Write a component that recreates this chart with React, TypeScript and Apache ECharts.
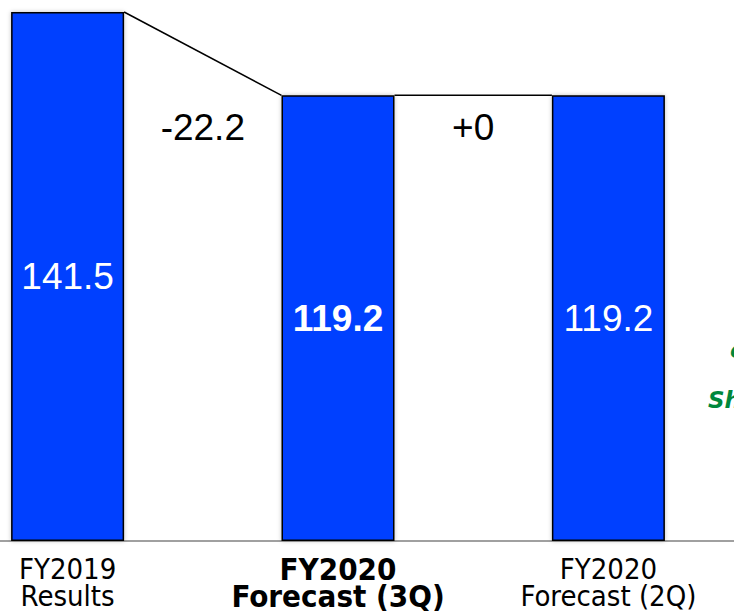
import React, { useEffect, useRef } from "react";
import * as echarts from "echarts";

const categories = ["FY2019\nResults", "FY2020\nForecast (3Q)", "FY2020\nForecast (2Q)"];
const values = [141.5, 119.2, 119.2];
const deltaLabels = ["-22.2", "+0"];
const boldIndex = 1;

const BAR_W = 113;
const BLUE = "#0040ff";

export default function App() {
  const ref = useRef<HTMLDivElement>(null);
  useEffect(() => {
    if (!ref.current) return;
    const chart = echarts.init(ref.current, undefined, { renderer: "svg" });

    // 5 slots: bar, gap, bar, gap, bar
    const axisData: any[] = [];
    const barData: any[] = [];
    categories.forEach((c, i) => {
      axisData.push(
        i === boldIndex
          ? { value: c, textStyle: { fontWeight: "bold", fontSize: 31, lineHeight: 27 } }
          : { value: c }
      );
      barData.push(
        i === boldIndex
          ? { value: values[i], label: { fontWeight: "bold" } }
          : { value: values[i] }
      );
      if (i < categories.length - 1) {
        axisData.push({ value: "gap" + i });
        barData.push("-");
      }
    });

    const connectors = deltaLabels.map((d, i) => [i * 2, values[i], values[i + 1], d]);

    chart.setOption({
      animation: false,
      grid: [
        { left: 0, width: 676, top: 12, bottom: 73, containLabel: false },
        { left: 0, right: 0, top: 12, bottom: 73, containLabel: false },
      ],
      xAxis: [
        {
          type: "category",
          gridIndex: 0,
          data: axisData,
          axisLine: { show: false },
          axisTick: { show: false },
          axisLabel: {
            interval: 0,
            margin: 14,
            fontFamily: "'DejaVu Sans Condensed', 'DejaVu Sans', sans-serif",
            fontSize: 29,
            lineHeight: 27,
            color: "#000",
            formatter: (v: string) => (v.startsWith("gap") ? "" : v),
          },
        },
        {
          type: "value",
          gridIndex: 1,
          min: 0,
          max: 1,
          axisLine: { show: true, onZero: false, lineStyle: { color: "#a0a0a0", width: 2 } },
          axisTick: { show: false },
          axisLabel: { show: false },
          splitLine: { show: false },
        },
      ],
      yAxis: [
        {
          type: "value",
          gridIndex: 0,
          min: 0,
          max: Math.max(...values),
          show: false,
          splitLine: { show: false },
        },
        {
          type: "value",
          gridIndex: 1,
          min: 0,
          max: 1,
          show: false,
          splitLine: { show: false },
        },
      ],
      graphic: [
        {
          type: "text",
          x: 730,
          y: 338,
          style: { text: "co", fill: "#00873c", font: "italic bold 23px 'DejaVu Sans'" },
        },
        {
          type: "text",
          x: 708,
          y: 388,
          style: { text: "Sh", fill: "#00873c", font: "italic bold 23px 'DejaVu Sans'" },
        },
      ],
      series: [
        {
          type: "bar",
          xAxisIndex: 0,
          yAxisIndex: 0,
          data: barData,
          barWidth: BAR_W,
          itemStyle: {
            color: BLUE,
            borderColor: "#000",
            borderWidth: 1.5,
            shadowBlur: 4,
            shadowColor: "rgba(0,0,0,0.25)",
          },
          label: {
            show: true,
            position: "inside",
            color: "#fff",
            fontSize: 37,
            fontFamily: "'Liberation Sans', Arial, sans-serif",
          },
        },
        {
          type: "custom",
          xAxisIndex: 0,
          yAxisIndex: 0,
          data: connectors,
          renderItem: (params: any, api: any) => {
            const i = api.value(0);
            const p1 = api.coord([i, api.value(1)]);
            const p2 = api.coord([i + 2, api.value(2)]);
            const x1 = p1[0] + BAR_W / 2;
            const x2 = p2[0] - BAR_W / 2;
            const txt = connectors[params.dataIndex][3] as string;
            return {
              type: "group",
              children: [
                {
                  type: "line",
                  shape: { x1, y1: p1[1], x2, y2: p2[1] },
                  style: { stroke: "#000", lineWidth: 1.5 },
                },
                {
                  type: "text",
                  style: {
                    text: txt,
                    x: (x1 + x2) / 2,
                    y: Math.max(p1[1], p2[1]) + 32,
                    align: "center",
                    verticalAlign: "middle",
                    fill: "#000",
                    font: "37px 'Liberation Sans', Arial, sans-serif",
                  },
                },
              ],
            };
          },
        },
      ],
    });
    return () => chart.dispose();
  }, []);
  return (
    <div
      ref={ref}
      style={{ position: "fixed", left: 0, top: 0, width: 734, height: 614, background: "#fff" }}
    />
  );
}
